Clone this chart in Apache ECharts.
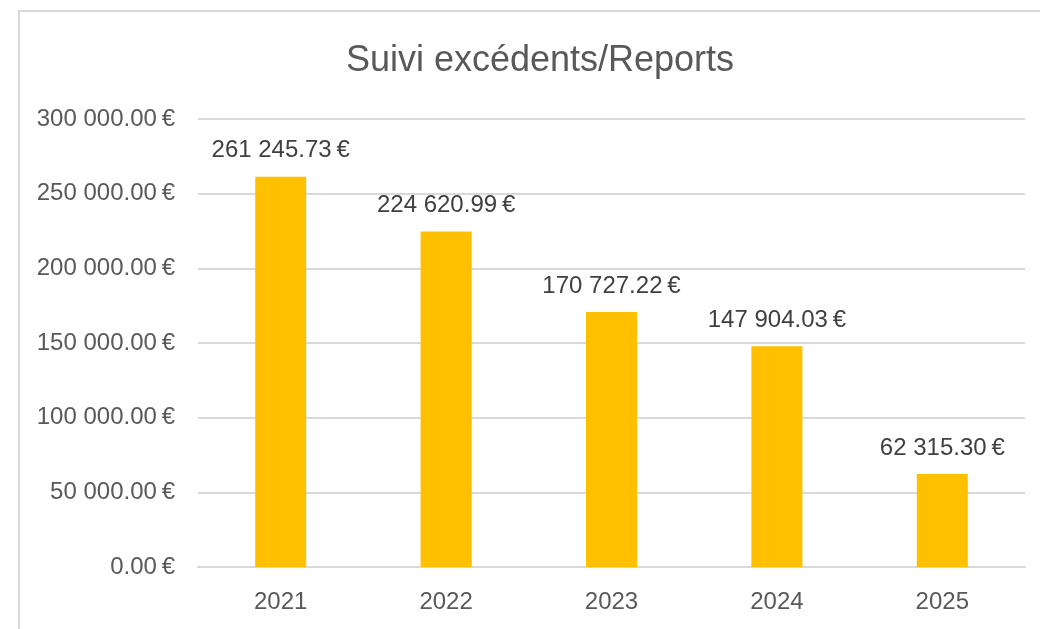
<!DOCTYPE html>
<html>
<head>
<meta charset="utf-8">
<script src="https://cdn.jsdelivr.net/npm/echarts@6/dist/echarts.min.js"></script>
<style>
html,body{margin:0;padding:0;background:#fff;}
#chart{width:1040px;height:629px;}
</style>
</head>
<body>
<div id="chart"></div>
<script>
const categories = ['2021', '2022', '2023', '2024', '2025'];
const values = [261245.73, 224620.99, 170727.22, 147904.03, 62315.30];
const yTicks = [0, 50000, 100000, 150000, 200000, 250000, 300000];

function fmt(v) {
  const parts = v.toFixed(2).split('.');
  const intPart = parts[0].replace(/\B(?=(\d{3})+(?!\d))/g, ' ');
  return intPart + '.' + parts[1] + '\u2009€';
}

const chart = echarts.init(document.getElementById('chart'));
const font = '"Liberation Sans", Arial, sans-serif';
chart.setOption({
  animation: false,
  backgroundColor: '#ffffff',
  graphic: [{
    type: 'rect',
    shape: { x: 19, y: 11, width: 1100, height: 700 },
    style: { fill: 'none', stroke: '#d9d9d9', lineWidth: 2 },
    silent: true
  }],
  title: {
    text: 'Suivi excédents/Reports',
    left: 535,
    textAlign: 'center',
    top: 38,
    textStyle: { fontFamily: font, fontSize: 36, fontWeight: 'normal', color: '#595959' }
  },
  grid: { left: 198, right: 15, top: 119, bottom: 62, containLabel: false },
  xAxis: {
    type: 'category',
    data: categories,
    axisLine: { show: true, lineStyle: { color: '#d9d9d9', width: 2 } },
    axisTick: { show: false },
    axisLabel: { color: '#595959', fontFamily: font, fontSize: 24, margin: 23 }
  },
  yAxis: {
    type: 'value',
    min: yTicks[0],
    max: yTicks[yTicks.length - 1],
    interval: yTicks[1] - yTicks[0],
    axisLine: { show: false },
    axisTick: { show: false },
    splitLine: { lineStyle: { color: '#d9d9d9', width: 2 } },
    axisLabel: { color: '#595959', fontFamily: font, fontSize: 24, margin: 23, formatter: v => fmt(v) }
  },
  series: [{
    type: 'bar',
    data: values,
    barWidth: 51,
    itemStyle: { color: '#FFC000' },
    label: {
      show: true,
      position: 'top',
      distance: 14,
      color: '#404040',
      fontFamily: font,
      fontSize: 24,
      formatter: p => fmt(p.value)
    }
  }]
});
</script>
</body>
</html>
